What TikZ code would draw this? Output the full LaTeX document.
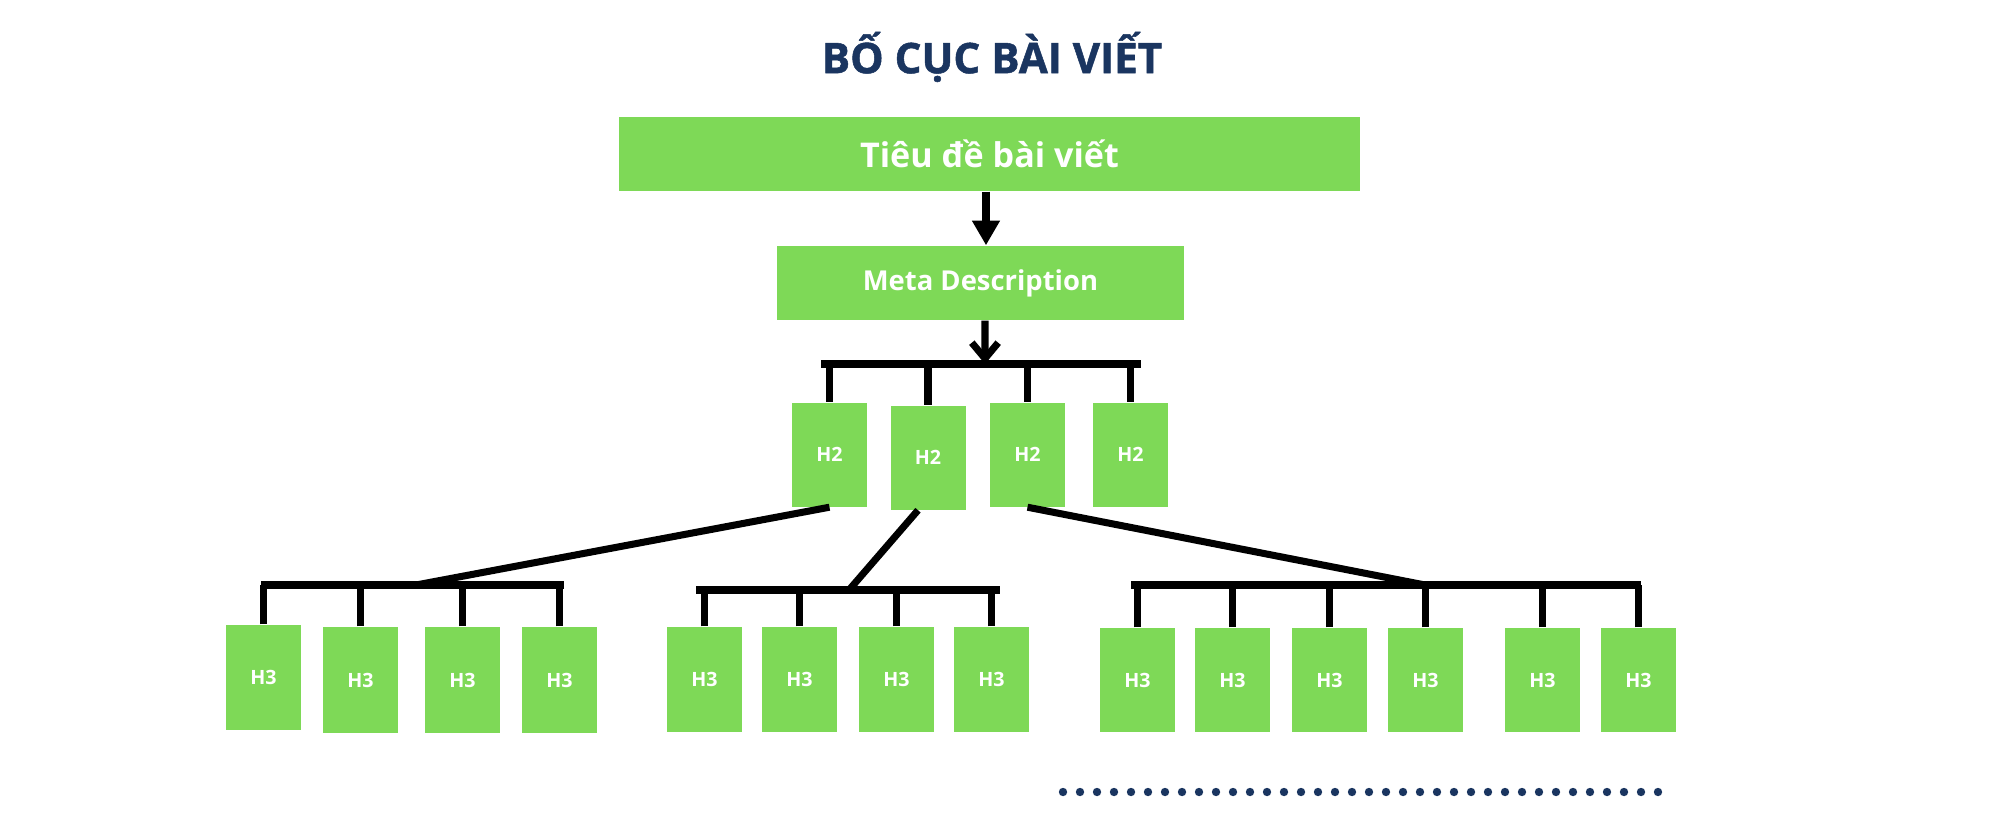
\documentclass[tikz,border=0pt]{standalone}
\usepackage{fontspec}
\setmainfont{Open Sans}
\newfontfamily\titlefont{Open Sans}[BoldFeatures={FakeBold=1.2}]
\usetikzlibrary{arrows.meta}
\definecolor{grn}{HTML}{7ED957}
\definecolor{navy}{HTML}{1A3560}
\begin{document}
\begin{tikzpicture}[x=0.1mm,y=-0.1mm,
  box/.style={fill=grn, draw=none, inner sep=0pt, text=white, font=\bfseries},
  hbox/.style={box, minimum width=7.5mm, minimum height=10.4mm, font=\bfseries\fontsize{5.6}{6}\selectfont},
  conn/.style={line width=2pt, black}]
\useasboundingbox (0,0) rectangle (2000,833);

% title
\node[font=\titlefont\bfseries\fontsize{12}{14}\selectfont, text=navy] (title) at (992,57) {BỐ CỤC BÀI VIẾT};

% main boxes
\node[box, minimum width=74.1mm, minimum height=7.4mm, font=\bfseries\fontsize{9.7}{12}\selectfont] (tieude) at (989.5,154) {Tiêu đề bài viết};
\node[box, minimum width=40.7mm, minimum height=7.4mm, font=\bfseries\fontsize{7.8}{10}\selectfont] (meta) at (980.5,283) {Meta Description};

% H2 boxes
\node[hbox] (h2a) at (829.5,454.5) {H2};
\node[hbox] (h2b) at (928,457.5) {H2};
\node[hbox] (h2c) at (1027.5,454.5) {H2};
\node[hbox] (h2d) at (1130.5,454.5) {H2};

% H3 group 1
\node[hbox, minimum height=10.5mm] (g1a) at (263.5,677.5) {H3};
\node[hbox, minimum height=10.6mm] (g1b) at (360.5,680) {H3};
\node[hbox, minimum height=10.6mm] (g1c) at (462.5,680) {H3};
\node[hbox, minimum height=10.6mm] (g1d) at (559.5,680) {H3};
% H3 group 2
\node[hbox, minimum height=10.5mm] (g2a) at (704.5,679.5) {H3};
\node[hbox, minimum height=10.5mm] (g2b) at (799.5,679.5) {H3};
\node[hbox, minimum height=10.5mm] (g2c) at (896.5,679.5) {H3};
\node[hbox, minimum height=10.5mm] (g2d) at (991.5,679.5) {H3};
% H3 group 3
\node[hbox] (g3a) at (1137.5,680) {H3};
\node[hbox] (g3b) at (1232.5,680) {H3};
\node[hbox] (g3c) at (1329.5,680) {H3};
\node[hbox] (g3d) at (1425.5,680) {H3};
\node[hbox] (g3e) at (1542.5,680) {H3};
\node[hbox] (g3f) at (1638.5,680) {H3};

% bar coordinates
\coordinate (h2L) at (821,364);
\coordinate (h2R) at (1141,364);
\coordinate (h2M) at (985,364);
\coordinate (b1L) at (261,585);
\coordinate (b1R) at (564,585);
\coordinate (b1M) at (416,585);
\coordinate (b2L) at (696,590);
\coordinate (b2R) at (1000,590);
\coordinate (b2M) at (849,590);
\coordinate (b3L) at (1131,585);
\coordinate (b3R) at (1641,585);
\coordinate (b3M) at (1425,585);

% arrows
\draw[conn, -{Triangle[width=7.5pt,length=7pt]}] ([xshift=-0.35mm]tieude.south) -- ([xshift=-0.35mm]tieude.south |- meta.north);
\draw[conn] (h2L) -- (h2R);
\draw[conn, -{Straight Barb[width=7.5pt,length=4.5pt]}] ([xshift=0.45mm]meta.south) -- (h2M);
\foreach \n in {h2a,h2b,h2c,h2d}
  \draw[conn] (\n.north) -- (\n.north |- h2L);

% group bars
\draw[conn] (b1L) -- (b1R);
\draw[conn] (b2L) -- (b2R);
\draw[conn] (b3L) -- (b3R);
\foreach \n in {g1a,g1b,g1c,g1d}
  \draw[conn] (\n.north) -- (\n.north |- b1L);
\foreach \n in {g2a,g2b,g2c,g2d}
  \draw[conn] (\n.north) -- (\n.north |- b2L);
\foreach \n in {g3a,g3b,g3c,g3d,g3e,g3f}
  \draw[conn] (\n.north) -- (\n.north |- b3L);

% diagonals
\draw[conn] (h2a.south) -- (b1M);
\draw[conn] ([xshift=-1mm]h2b.south) -- (b2M);
\draw[conn] (h2c.south) -- (b3M);

% dotted line
\foreach \i in {0,...,35}
  \fill[navy] (1063+17*\i,792) circle (0.42mm);
\end{tikzpicture}
\end{document}
